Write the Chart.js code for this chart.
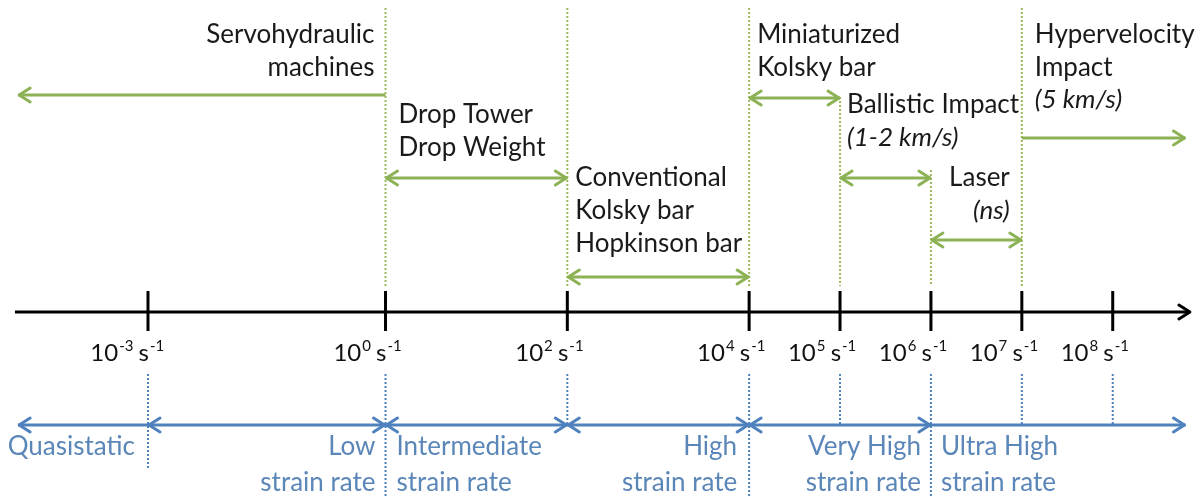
<!DOCTYPE html>
<html>
<head>
<meta charset="utf-8">
<script src="https://cdn.jsdelivr.net/npm/chart.js@4"></script>
<style>
  html, body { margin: 0; padding: 0; background: #fff; }
  #wrap { width: 1204px; height: 497px; }
</style>
</head>
<body>
<div id="wrap"><canvas id="rateChart"></canvas></div>
<script>
// strain rate axis: exponents n of 10^n s^-1
const tickExponents = [-3, 0, 2, 4, 5, 6, 7, 8];

// strain rate regimes (blue, under the axis); null = open end
const regimeNames = [['Quasistatic'], ['Low', 'strain rate'], ['Intermediate', 'strain rate'],
  ['High', 'strain rate'], ['Very High', 'strain rate'], ['Ultra High', 'strain rate']];
const regimeFrom = [null, -3, 0, 2, 4, 6];
const regimeTo = [-3, 0, 2, 4, 6, null];

// test techniques (green, above the axis)
const techniqueNames = [['Servohydraulic', 'machines'], ['Drop Tower', 'Drop Weight'],
  ['Conventional', 'Kolsky bar', 'Hopkinson bar'], ['Miniaturized', 'Kolsky bar'],
  ['Ballistic Impact'], ['Laser'], ['Hypervelocity', 'Impact']];
const techniqueNotes = ['', '', '', '', '(1-2 km/s)', '(ns)', '(5 km/s)'];
const techniqueFrom = [null, 0, 2, 4, 5, 6, 7];
const techniqueTo = [0, 2, 4, 5, 6, 7, null];

// ---- layout (y in canvas-height units, scale reversed) ----
const GREEN = '#8db255';
const BLUE = '#4f81bd';
const BLUE_TEXT = '#5a86b8';
const FONT = 'Lato, "Open Sans", sans-serif';
const TEXT_SIZE = 26;
const NEG_SQUEEZE = 0.871;   // decades below 10^0 are drawn a bit shorter
const openLeft = -4.64, openRight = 8.8;
const axisStart = -4.68, axisEnd = 8.86;
const axisY = 312, tickTop = 291, tickBottom = 331;
const regimeRowY = 425, regimeTextY = [447, 483];
const techRowY = [95, 178, 277, 98, 178, 240, 138];
const techText = [
  { at: 0, align: 'right', dx: -11, y: 35 },
  { at: 0, align: 'left', dx: 13, y: 115 },
  { at: 2, align: 'left', dx: 8, y: 178 },
  { at: 4, align: 'left', dx: 8, y: 35 },
  { at: 5, align: 'left', dx: 7, y: 105 },
  { at: 7, align: 'right', dx: -12, y: 178 },
  { at: 7, align: 'left', dx: 13, y: 35 }
];
const regimeText = [
  { at: -3, align: 'right', dx: -13 },
  { at: 0, align: 'right', dx: -10 },
  { at: 0, align: 'left', dx: 11 },
  { at: 4, align: 'right', dx: -12 },
  { at: 6, align: 'right', dx: -10 },
  { at: 6, align: 'left', dx: 10 }
];
// dotted guides: green above the axis, blue below
const greenGuideTop = { 0: 8, 2: 8, 4: 8, 5: 97, 6: 170, 7: 8 };
const blueGuideBottom = { '-3': 468, 0: 497, 2: 425, 4: 497, 5: 425, 6: 497, 7: 425, 8: 425 };

// schematic log axis: linear in exponent, negative side squeezed
class SchematicScale extends Chart.LinearScale {
  getPixelForValue(value) {
    return super.getPixelForValue(value < 0 ? value * NEG_SQUEEZE : value);
  }
}
SchematicScale.id = 'schematic';
SchematicScale.defaults = {};
Chart.register(SchematicScale);

function seg(x1, y1, x2, y2, color, width, dash, order) {
  return {
    data: [{ x: x1, y: y1 }, { x: x2, y: y2 }],
    showLine: true, borderColor: color, borderWidth: width, borderDash: dash || [],
    pointRadius: 0, order: order, borderCapStyle: 'butt'
  };
}

const datasets = [];
const arrows = [];

Object.keys(greenGuideTop).forEach(k => {
  datasets.push(seg(+k, greenGuideTop[k], +k, 286, '#9bbb59', 2, [2, 2], 5));
});
Object.keys(blueGuideBottom).forEach(k => {
  datasets.push(seg(+k, 374, +k, blueGuideBottom[k], BLUE, 2, [2, 2], 5));
});

// closed spans get heads at both ends, open spans only at the open end
function addSpan(from, to, rowY, color) {
  const a = from === null ? openLeft : from;
  const b = to === null ? openRight : to;
  datasets.push(seg(a, rowY, b, rowY, color, 3, [], 2));
  arrows.push({
    x1: a, x2: b, y: rowY, color,
    start: from === null || (from !== null && to !== null),
    end: to === null || (from !== null && to !== null)
  });
}
techniqueFrom.forEach((from, i) => addSpan(from, techniqueTo[i], techRowY[i], GREEN));
regimeFrom.forEach((from, i) => addSpan(from, regimeTo[i], regimeRowY, BLUE));

datasets.push(seg(axisStart, axisY, axisEnd - 0.02, axisY, '#000', 3, [], 0));
arrows.push({ x1: axisStart, x2: axisEnd, y: axisY, color: '#000', start: false, end: true });
tickExponents.forEach(t => datasets.push(seg(t, tickTop, t, tickBottom, '#000', 3, [], 0)));

const decorPlugin = {
  id: 'decor',
  afterDatasetsDraw(chart) {
    const { ctx, scales: { x, y } } = chart;
    ctx.save();
    // arrow heads
    arrows.forEach(a => {
      ctx.strokeStyle = a.color;
      ctx.lineWidth = 3;
      ctx.lineCap = 'round';
      ctx.lineJoin = 'round';
      const py = y.getPixelForValue(a.y);
      const heads = [];
      if (a.start) heads.push([x.getPixelForValue(a.x1), 1]);
      if (a.end) heads.push([x.getPixelForValue(a.x2), -1]);
      heads.forEach(([px, dir]) => {
        ctx.beginPath();
        ctx.moveTo(px + dir * 12, py - 7);
        ctx.lineTo(px + dir * 1, py);
        ctx.lineTo(px + dir * 12, py + 7);
        ctx.stroke();
      });
    });

    ctx.textBaseline = 'middle';
    // technique labels
    ctx.fillStyle = '#1a1a1a';
    techniqueNames.forEach((lines, i) => {
      const t = techText[i];
      const px = x.getPixelForValue(t.at) + t.dx;
      ctx.textAlign = t.align;
      let ly = t.y;
      lines.forEach(line => {
        ctx.font = TEXT_SIZE + 'px ' + FONT;
        ctx.fillText(line, px, y.getPixelForValue(ly));
        ly += 33;
      });
      if (techniqueNotes[i]) {
        ctx.font = 'italic ' + TEXT_SIZE + 'px ' + FONT;
        ctx.fillText(techniqueNotes[i], px, y.getPixelForValue(ly - (lines.length === 2 ? 1 : 0)));
      }
    });

    // regime labels
    ctx.fillStyle = BLUE_TEXT;
    regimeNames.forEach((lines, i) => {
      const t = regimeText[i];
      const px = x.getPixelForValue(t.at) + t.dx;
      ctx.textAlign = t.align;
      ctx.font = TEXT_SIZE + 'px ' + FONT;
      lines.forEach((line, j) => ctx.fillText(line, px, y.getPixelForValue(regimeTextY[j])));
    });

    // tick labels 10^n s^-1, "s" ends at the tick
    ctx.fillStyle = '#111';
    ctx.textAlign = 'left';
    ctx.textBaseline = 'alphabetic';
    const base = y.getPixelForValue(361);
    tickExponents.forEach(n => {
      const big = '24px ' + FONT, small = '15px ' + FONT;
      ctx.font = big; const w10 = ctx.measureText('10').width;
      const wsp = ctx.measureText(' ').width, ws = ctx.measureText('s').width;
      ctx.font = small; const wexp = ctx.measureText(String(n)).width;
      const tx = x.getPixelForValue(n) + 1;
      let cx = tx - ws - wsp - wexp - w10;
      ctx.font = big; ctx.fillText('10', cx, base); cx += w10;
      ctx.font = small; ctx.fillText(String(n), cx + 1, base - 10); cx += wexp + wsp;
      ctx.font = big; ctx.fillText('s', cx, base); cx += ws;
      ctx.font = small; ctx.fillText('-1', cx + 1, base - 10);
    });
    ctx.restore();
  }
};

new Chart(document.getElementById('rateChart').getContext('2d'), {
  type: 'scatter',
  data: { datasets },
  options: {
    responsive: true,
    maintainAspectRatio: false,
    animation: false,
    layout: { padding: 0 },
    plugins: { legend: { display: false }, tooltip: { enabled: false } },
    scales: {
      x: { type: 'schematic', min: -4.241, max: 9.004, display: false },
      y: { type: 'linear', min: 0, max: 497, reverse: true, display: false }
    }
  },
  plugins: [decorPlugin]
});
</script>
</body>
</html>
